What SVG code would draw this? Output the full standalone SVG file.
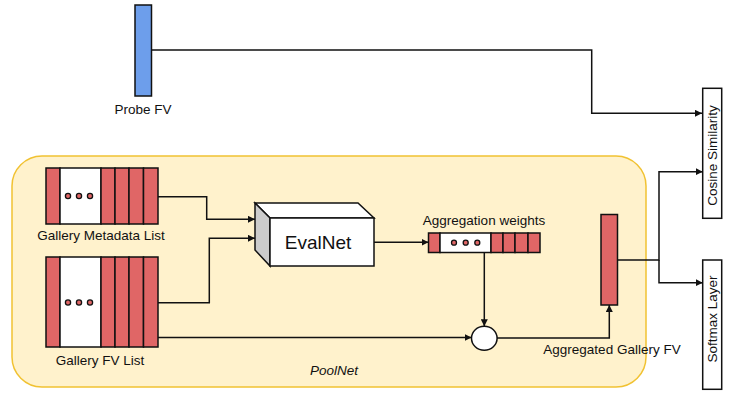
<svg xmlns="http://www.w3.org/2000/svg" width="747" height="409" viewBox="0 0 747 409">
<style>
text{font-family:"Liberation Sans",Arial,sans-serif;fill:#111}
.lbl{font-size:13.5px}
.r{fill:#e06666;stroke:#111;stroke-width:1.5}
.w{fill:#fff;stroke:#111;stroke-width:1.5}
.dot{fill:#e06666;stroke:#111;stroke-width:1.3}
.c{fill:none;stroke:#111;stroke-width:1.5}
</style>
<defs>
<marker id="ah" viewBox="0 0 10 10" refX="10" refY="5" markerWidth="7" markerHeight="7" markerUnits="userSpaceOnUse" orient="auto"><path d="M0,0 L10,5 L0,10 z" fill="#111"/></marker>
</defs>
<g id="poolnet">
<rect x="12" y="156" width="634" height="231" rx="30" ry="30" fill="#fff2cc" stroke="#f1c232" stroke-width="1.5"/>
<text x="334" y="375" class="lbl" text-anchor="middle" font-style="italic">PoolNet</text>
</g>
<g id="probe">
<rect x="135" y="5" width="16.5" height="91" fill="#6d9eeb" stroke="#111" stroke-width="1.5"/>
<text x="143" y="114" class="lbl" text-anchor="middle">Probe FV</text>
</g>
<g id="metadata">
<rect x="46" y="168" width="14" height="56" class="r"/>
<rect x="60" y="168" width="41" height="56" class="w"/>
<rect x="101" y="168" width="14" height="56" class="r"/>
<rect x="115" y="168" width="14" height="56" class="r"/>
<rect x="129" y="168" width="14.5" height="56" class="r"/>
<rect x="143.5" y="168" width="14.5" height="56" class="r"/>
<circle cx="68" cy="196" r="2.6" class="dot"/><circle cx="79" cy="196" r="2.6" class="dot"/><circle cx="90" cy="196" r="2.6" class="dot"/>
<text x="101" y="240" class="lbl" text-anchor="middle">Gallery Metadata List</text>
</g>
<g id="fvlist">
<rect x="46" y="257" width="14" height="90" class="r"/>
<rect x="60" y="257" width="41" height="90" class="w"/>
<rect x="101" y="257" width="14" height="90" class="r"/>
<rect x="115" y="257" width="14" height="90" class="r"/>
<rect x="129" y="257" width="14.5" height="90" class="r"/>
<rect x="143.5" y="257" width="14.5" height="90" class="r"/>
<circle cx="68" cy="302.5" r="2.6" class="dot"/><circle cx="79" cy="302.5" r="2.6" class="dot"/><circle cx="90" cy="302.5" r="2.6" class="dot"/>
<text x="100" y="365" class="lbl" text-anchor="middle">Gallery FV List</text>
</g>
<g id="evalnet">
<polygon points="255,203 358,203 374,218 270,218" fill="#fff" stroke="#111" stroke-width="1.5"/>
<polygon points="255,203 270,218 270,266 255,250" fill="#cccccc" stroke="#111" stroke-width="1.5"/>
<rect x="270" y="218" width="104" height="48" class="w"/>
<text x="318" y="249" font-size="19" text-anchor="middle">EvalNet</text>
</g>
<g id="weights">
<rect x="428.5" y="233" width="11.5" height="19.5" class="r"/>
<rect x="440" y="233" width="51" height="19.5" class="w"/>
<rect x="491" y="233" width="12" height="19.5" class="r"/>
<rect x="503" y="233" width="12" height="19.5" class="r"/>
<rect x="515" y="233" width="13" height="19.5" class="r"/>
<rect x="528" y="233" width="12" height="19.5" class="r"/>
<circle cx="454" cy="242.7" r="2.5" class="dot"/><circle cx="465.7" cy="242.7" r="2.5" class="dot"/><circle cx="477.3" cy="242.7" r="2.5" class="dot"/>
<text x="484" y="225" class="lbl" text-anchor="middle">Aggregation weights</text>
</g>
<g id="combine">
<ellipse cx="484.3" cy="338.3" rx="12.8" ry="12" class="w"/>
</g>
<g id="aggfv">
<rect x="601" y="214.5" width="16.5" height="90.5" class="r"/>
<text x="612" y="354" class="lbl" text-anchor="middle">Aggregated Gallery FV</text>
</g>
<g id="cosine">
<rect x="702.7" y="88.3" width="19" height="130" class="w"/>
<text transform="translate(717,155.5) rotate(-90)" class="lbl" text-anchor="middle">Cosine Similarity</text>
</g>
<g id="softmax">
<rect x="702.7" y="260" width="19" height="129.3" class="w"/>
<text transform="translate(717,319) rotate(-90)" class="lbl" text-anchor="middle">Softmax Layer</text>
</g>
<g id="connectors">
<path d="M151.5,50 H591.7 V113.3 H702" class="c" marker-end="url(#ah)"/>
<path d="M158,196.7 H206.7 V219.3 H255" class="c" marker-end="url(#ah)"/>
<path d="M158,302.7 H209.3 V238.3 H255" class="c" marker-end="url(#ah)"/>
<path d="M158,337.5 H471.5" class="c" marker-end="url(#ah)"/>
<path d="M374,242.3 H428.5" class="c" marker-end="url(#ah)"/>
<path d="M484.3,252.5 V326.3" class="c" marker-end="url(#ah)"/>
<path d="M497,338 H609.3 V305" class="c" marker-end="url(#ah)"/>
<path d="M617.5,260 H659 V171.7 H702.7" class="c" marker-end="url(#ah)"/>
<path d="M659,260 V282.7 H702.7" class="c" marker-end="url(#ah)"/>
</g>
</svg>
